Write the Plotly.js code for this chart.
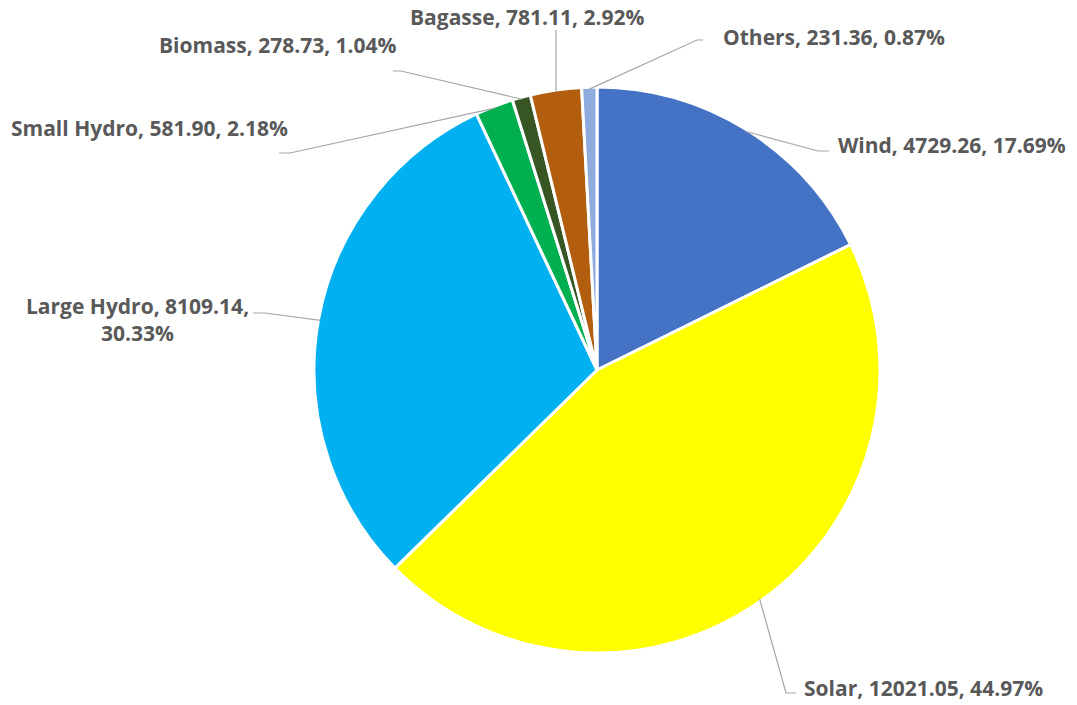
<!DOCTYPE html>
<html>
<head>
<meta charset="utf-8">
<script src="https://cdn.plot.ly/plotly-3.0.1.min.js"></script>
<style>html,body{margin:0;padding:0;background:#fff;}#chart{width:1077px;height:705px;}</style>
</head>
<body>
<div id="chart"></div>
<script>
var categories = ["Wind", "Solar", "Large Hydro", "Small Hydro", "Biomass", "Bagasse", "Others"];
var capacities = [4729.26, 12021.05, 8109.14, 581.90, 278.73, 781.11, 231.36];
var sliceColors = ["#4472C4", "#FFFF00", "#00B0F0", "#00B050", "#375623", "#B35E0E", "#8FAADC"];
// label centre positions in pixels (x from left, y from top)
var labelPos = [[952, 145], [923, 688], [137, 319], [149, 128], [278, 45], [527, 17], [834, 37]];
// leader line elbow and end points in pixels
var leaderElbow = [[818, 151], [786, 693], [265, 313], [290, 153], [401, 71], [556, 32], [697, 40]];
var leaderEnd = [[829, 151], [796, 693], [253, 313], [279, 153], [393, 71], [556, 30], [703, 40]];

var W = 1077, H = 705;
var cx = 597, cy = 370, r = 283;
var domX = [(cx - r) / W, (cx + r) / W];
var domY = [(H - cy - r) / H, (H - cy + r) / H];
function px(x) { return (x / W).toFixed(5); }
function py(y) { return (1 - y / H).toFixed(5); }

var total = capacities.reduce(function (a, b) { return a + b; }, 0);
var annotations = [];
var shapes = [];
var cum = 0;
for (var i = 0; i < categories.length; i++) {
  var frac = capacities[i] / total;
  var theta = 2 * Math.PI * (cum + frac / 2);
  cum += frac;
  var tx = cx + (r - 2) * Math.sin(theta);
  var ty = cy - (r - 2) * Math.cos(theta);
  var pct = (frac * 100).toFixed(2) + "%";
  var txt = categories[i] + ", " + capacities[i].toFixed(2) + ", " + pct;
  if (categories[i] === "Large Hydro") {
    txt = categories[i] + ", " + capacities[i].toFixed(2) + ",<br>" + pct;
  }
  annotations.push({
    xref: "paper", yref: "paper",
    x: labelPos[i][0] / W, y: 1 - labelPos[i][1] / H,
    xanchor: "center", yanchor: "middle",
    text: txt,
    showarrow: false,
    font: {family: "'Open Sans', sans-serif", size: 21, color: "#595959", weight: "bold"},
    align: "center"
  });
  shapes.push({
    type: "path", xref: "paper", yref: "paper",
    path: "M" + px(tx) + "," + py(ty) + " L" + px(leaderElbow[i][0]) + "," + py(leaderElbow[i][1]) +
          " L" + px(leaderEnd[i][0]) + "," + py(leaderEnd[i][1]),
    line: {color: "#A6A6A6", width: 1.2}
  });
}

var data = [{
  type: "pie",
  labels: categories,
  values: capacities,
  sort: false,
  direction: "clockwise",
  rotation: 0,
  textinfo: "none",
  hoverinfo: "label+value+percent",
  marker: {colors: sliceColors, line: {color: "#FFFFFF", width: 3}},
  domain: {x: domX, y: domY}
}];

var layout = {
  width: W, height: H,
  margin: {l: 0, r: 0, t: 0, b: 0},
  showlegend: false,
  paper_bgcolor: "#FFFFFF",
  annotations: annotations,
  shapes: shapes
};

Plotly.newPlot("chart", data, layout, {displayModeBar: false, staticPlot: true});
</script>
</body>
</html>
